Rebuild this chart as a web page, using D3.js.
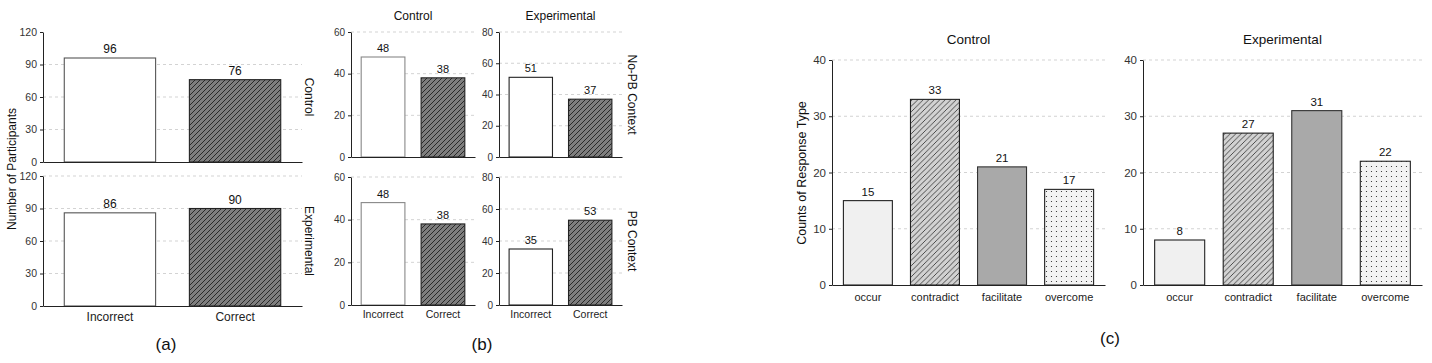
<!DOCTYPE html>
<html><head><meta charset="utf-8">
<script src="https://cdn.jsdelivr.net/npm/d3@7"></script>
<style>body{margin:0;background:#fff}svg{display:block;font-family:"Liberation Sans",Arial,sans-serif}</style>
</head><body>
<script>
// ---- data ----
const answerCats = ["Incorrect", "Correct"];
const aControl = [96, 76];
const aExperimental = [86, 90];
const aTicks = [0, 30, 60, 90, 120];
const bControlNoPB = [48, 38];
const bExperimentalNoPB = [51, 37];
const bControlPB = [48, 38];
const bExperimentalPB = [35, 53];
const bTicksControl = [0, 20, 40, 60];
const bTicksExp = [0, 20, 40, 60, 80];
const responseCats = ["occur", "contradict", "facilitate", "overcome"];
const cControl = [15, 33, 21, 17];
const cExperimental = [8, 27, 31, 22];
const cTicks = [0, 10, 20, 30, 40];

const W = 1432, H = 363;
const svg = d3.select("body").append("svg").attr("width", W).attr("height", H);
const defs = svg.append("defs");

function hatch(id, bg, line, sp, sw) {
  const p = defs.append("pattern").attr("id", id).attr("patternUnits", "userSpaceOnUse")
    .attr("width", sp).attr("height", sp);
  p.append("rect").attr("width", sp).attr("height", sp).attr("fill", bg);
  p.append("path").attr("d", `M0,${sp} L${sp},0 M${-sp/2},${sp/2} L${sp/2},${-sp/2} M${sp/2},${sp*1.5} L${sp*1.5},${sp/2}`)
    .attr("stroke", line).attr("stroke-width", sw);
}
hatch("hatchDark", "#7e7e7e", "#1a1a1a", 5, 0.85);
hatch("hatchLight", "#d2d2d2", "#2a2a2a", 5.5, 0.8);
const dp = defs.append("pattern").attr("id", "dots").attr("patternUnits", "userSpaceOnUse").attr("width", 5).attr("height", 5);
dp.append("rect").attr("width", 5).attr("height", 5).attr("fill", "#f3f3f3");
dp.append("circle").attr("cx", 1.5).attr("cy", 1.5).attr("r", 0.6).attr("fill", "#222");

function chart(o) {
  const g = svg.append("g");
  const x = d3.scaleBand().domain(o.cats).range([o.x0, o.x1]).paddingInner(0.27).paddingOuter(0.17);
  const top = o.ticks[o.ticks.length - 1];
  const y = d3.scaleLinear().domain([0, top]).range([o.yb, o.yt]);
  // grid
  g.selectAll("line.grid").data(o.ticks.filter(t => t > 0 && !(o.noTopGrid && t === top))).join("line")
    .attr("x1", o.x0).attr("x2", o.x1).attr("y1", d => y(d)).attr("y2", d => y(d))
    .attr("stroke", "#c8c8c8").attr("stroke-dasharray", "3,3").attr("stroke-width", 0.8);
  // bars
  g.selectAll("rect.bar").data(o.vals).join("rect")
    .attr("x", (d, i) => x(o.cats[i])).attr("width", x.bandwidth())
    .attr("y", d => y(d)).attr("height", d => y(0) - y(d))
    .attr("fill", (d, i) => o.fills[i]).attr("stroke", (d, i) => o.strokes[i]).attr("stroke-width", 1.1);
  // value labels
  g.selectAll("text.val").data(o.vals).join("text")
    .attr("x", (d, i) => x(o.cats[i]) + x.bandwidth() / 2).attr("y", d => y(d) - 5)
    .attr("text-anchor", "middle").attr("font-size", o.valSize).attr("fill", "#111").text(d => d);
  // y axis
  const ya = g.append("g").attr("transform", `translate(${o.x0},0)`)
    .call(d3.axisLeft(y).tickValues(o.ticks).tickSize(3).tickPadding(3).tickSizeOuter(0));
  ya.select(".domain").attr("stroke", "#222");
  ya.selectAll(".tick line").attr("stroke", "#222");
  ya.selectAll("text").attr("font-size", o.tickSize).attr("fill", "#333").attr("font-family", "Liberation Sans, Arial, sans-serif");
  // x axis baseline
  const xa = g.append("g").attr("transform", `translate(0,${o.yb})`)
    .call(d3.axisBottom(x).tickSize(0).tickPadding(o.catPad));
  xa.select(".domain").attr("stroke", "#222").attr("stroke-width", 1.2);
  xa.selectAll("text").attr("font-size", o.catSize).attr("fill", "#222").attr("font-family", "Liberation Sans, Arial, sans-serif")
    .style("display", o.showCats ? null : "none");
  if (o.title) g.append("text").attr("x", (o.x0 + o.x1) / 2).attr("y", o.titleY)
    .attr("text-anchor", "middle").attr("font-size", o.titleSize).attr("fill", "#111").text(o.title);
  if (o.side) g.append("text").attr("transform", `translate(${o.sideX},${(o.yt + o.yb) / 2}) rotate(90)`)
    .attr("text-anchor", "middle").attr("font-size", 12).attr("fill", "#111").text(o.side);
}

const abFills = ["#ffffff", "url(#hatchDark)"];
// (a)
chart({cats: answerCats, vals: aControl, ticks: aTicks, x0: 43, x1: 302, yt: 32, yb: 162, noTopGrid: true,
  fills: abFills, strokes: ["#555", "#222"], valSize: 12, tickSize: 10.5, catSize: 12, catPad: 6,
  showCats: false, side: "Control", sideX: 305});
chart({cats: answerCats, vals: aExperimental, ticks: aTicks, x0: 43, x1: 302, yt: 176, yb: 306,
  fills: abFills, strokes: ["#555", "#222"], valSize: 12, tickSize: 10.5, catSize: 12, catPad: 6,
  showCats: true, side: "Experimental", sideX: 305});
svg.append("text").attr("transform", "translate(16,169) rotate(-90)").attr("text-anchor", "middle")
  .attr("font-size", 12).attr("fill", "#111").text("Number of Participants");
svg.append("text").attr("x", 166).attr("y", 350).attr("text-anchor", "middle").attr("font-size", 17).attr("fill", "#111").text("(a)");

// (b)
chart({cats: answerCats, vals: bControlNoPB, ticks: bTicksControl, x0: 351, x1: 475, yt: 32, yb: 157,
  fills: abFills, strokes: ["#888", "#222"], valSize: 11, tickSize: 10, catSize: 10.5, catPad: 6,
  showCats: false, title: "Control", titleY: 20, titleSize: 12});
chart({cats: answerCats, vals: bExperimentalNoPB, ticks: bTicksExp, x0: 499, x1: 622, yt: 32, yb: 157,
  fills: abFills, strokes: ["#222", "#222"], valSize: 11, tickSize: 10, catSize: 10.5, catPad: 6,
  showCats: false, title: "Experimental", titleY: 20, titleSize: 12, side: "No-PB Context", sideX: 628});
chart({cats: answerCats, vals: bControlPB, ticks: bTicksControl, x0: 351, x1: 475, yt: 177, yb: 305,
  fills: abFills, strokes: ["#888", "#222"], valSize: 11, tickSize: 10, catSize: 10.5, catPad: 6,
  showCats: true});
chart({cats: answerCats, vals: bExperimentalPB, ticks: bTicksExp, x0: 499, x1: 622, yt: 177, yb: 305,
  fills: abFills, strokes: ["#222", "#222"], valSize: 11, tickSize: 10, catSize: 10.5, catPad: 6,
  showCats: true, side: "PB Context", sideX: 628});
svg.append("text").attr("x", 482).attr("y", 350).attr("text-anchor", "middle").attr("font-size", 17).attr("fill", "#111").text("(b)");

// (c)
const cFills = ["#f0f0f0", "url(#hatchLight)", "#a9a9a9", "url(#dots)"];
const cStrokes = ["#222", "#222", "#333", "#222"];
chart({cats: responseCats, vals: cControl, ticks: cTicks, x0: 832, x1: 1105, yt: 60, yb: 285,
  fills: cFills, strokes: cStrokes, valSize: 11.5, tickSize: 11.5, catSize: 11, catPad: 8,
  showCats: true, title: "Control", titleY: 44, titleSize: 13.5});
chart({cats: responseCats, vals: cExperimental, ticks: cTicks, x0: 1143, x1: 1422, yt: 60, yb: 285,
  fills: cFills, strokes: cStrokes, valSize: 11.5, tickSize: 11.5, catSize: 11, catPad: 8,
  showCats: true, title: "Experimental", titleY: 44, titleSize: 13.5});
svg.append("text").attr("transform", "translate(806,173) rotate(-90)").attr("text-anchor", "middle")
  .attr("font-size", 12.5).attr("fill", "#111").text("Counts of Response Type");
svg.append("text").attr("x", 1110).attr("y", 344).attr("text-anchor", "middle").attr("font-size", 17).attr("fill", "#111").text("(c)");
</script>
</body></html>
